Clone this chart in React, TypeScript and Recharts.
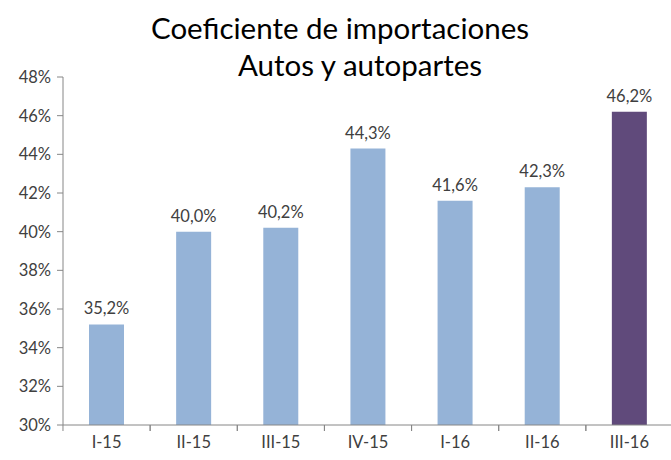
import { BarChart, Bar, XAxis, YAxis, Cell, LabelList } from "recharts";

const categories = ["I-15", "II-15", "III-15", "IV-15", "I-16", "II-16", "III-16"];
const coeficiente = [35.2, 40.0, 40.2, 44.3, 41.6, 42.3, 46.2];
const yTicks = [30, 32, 34, 36, 38, 40, 42, 44, 46, 48];
const barColors = ["#95B3D7", "#95B3D7", "#95B3D7", "#95B3D7", "#95B3D7", "#95B3D7", "#604A7B"];

const data = categories.map((c, i) => ({ name: c, value: coeficiente[i] }));

const FONT = "Lato, 'Open Sans', sans-serif";
const TEXT = "#404040";
const AXIS = "#868686";
const BAND = 87.2;

const fmtPct = (v: number) => `${v.toFixed(1).replace(".", ",")}%`;

const CatTick = (props: any) => {
  const { x, y, payload } = props;
  return (
    <g>
      <line x1={x - BAND / 2} y1={y} x2={x - BAND / 2} y2={y + 6} stroke={AXIS} />
      <line x1={x + BAND / 2} y1={y} x2={x + BAND / 2} y2={y + 6} stroke={AXIS} />
      <text x={x} y={y + 23} textAnchor="middle" fill={TEXT} fontSize={16.5} fontFamily={FONT}>
        {payload.value}
      </text>
    </g>
  );
};

const App = () => {
  return (
    <div style={{ position: "absolute", left: 0, top: 0, width: 671, height: 460, overflow: "hidden", background: "#fff", fontFamily: FONT }}>
      <div style={{ position: "absolute", left: 0, width: 680, top: 9, textAlign: "center", fontSize: 29.5, color: "#000", lineHeight: "37px" }}>
        Coeficiente de importaciones
      </div>
      <div style={{ position: "absolute", left: 40, width: 640, top: 46, textAlign: "center", fontSize: 29.5, color: "#000", lineHeight: "37px" }}>
        Autos y autopartes
      </div>
      <BarChart width={680} height={460} data={data} margin={{ top: 77, right: 7, bottom: 5, left: 8 }}>
        <XAxis
          dataKey="name"
          tick={<CatTick />}
          tickLine={false}
          tickSize={0}
          tickMargin={0}
          height={30}
          axisLine={{ stroke: AXIS }}
          interval={0}
        />
        <YAxis
          domain={[30, 48]}
          ticks={yTicks}
          tickFormatter={(v: number) => `${v}%`}
          width={55}
          allowDataOverflow
          axisLine={{ stroke: AXIS }}
          tickLine={{ stroke: AXIS }}
          tickSize={6}
          tickMargin={6}
          tick={{ fill: TEXT, fontSize: 16.5, fontFamily: FONT }}
        />
        <Bar dataKey="value" barSize={35} isAnimationActive={false}>
          {data.map((_, i) => (
            <Cell key={i} fill={barColors[i]} />
          ))}
          <LabelList
            dataKey="value"
            position="top"
            offset={10}
            formatter={(v: any) => fmtPct(Number(v))}
            style={{ fill: TEXT, fontSize: 16.5, fontFamily: FONT }}
          />
        </Bar>
      </BarChart>
    </div>
  );
};

export default App;
